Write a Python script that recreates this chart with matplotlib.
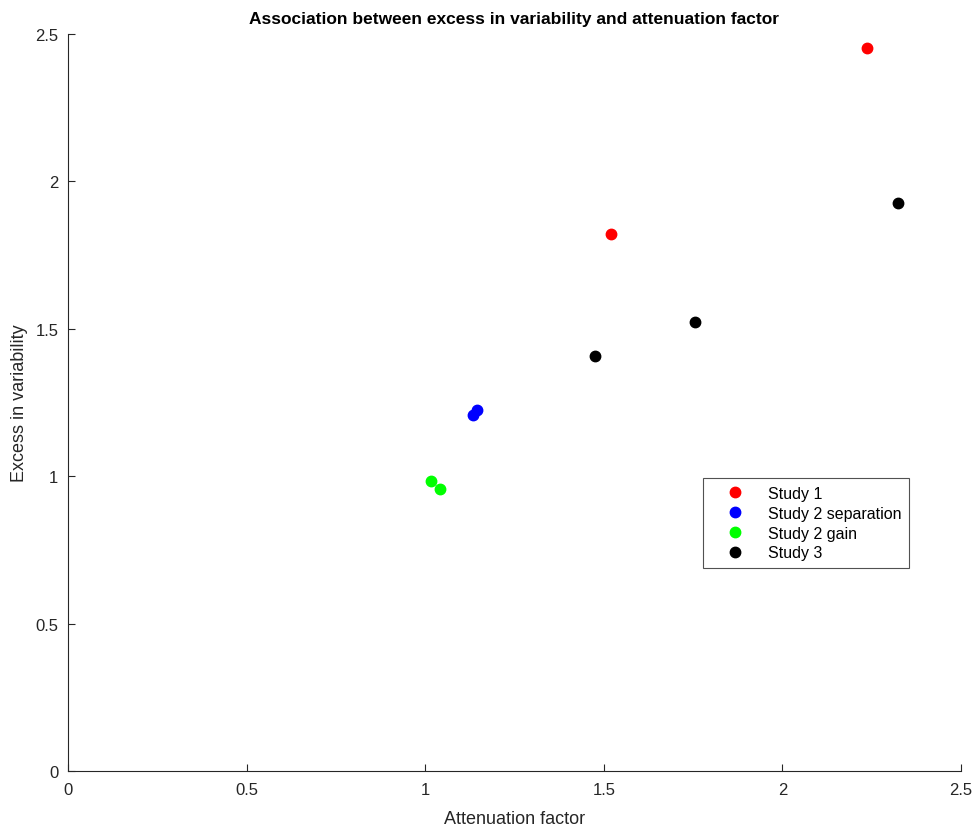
import matplotlib
matplotlib.use("Agg")
import matplotlib.pyplot as plt

plt.rcParams["font.family"] = ["Liberation Sans", "DejaVu Sans"]

# 数据
study1_x = [2.237, 1.520]
study1_y = [2.453, 1.822]
study2_sep_x = [1.134, 1.145]
study2_sep_y = [1.207, 1.224]
study2_gain_x = [1.016, 1.041]
study2_gain_y = [0.984, 0.957]
study3_x = [1.475, 1.755, 2.324]
study3_y = [1.407, 1.522, 1.928]

ticks = [0, 0.5, 1, 1.5, 2, 2.5]
tick_labels = ["0", "0.5", "1", "1.5", "2", "2.5"]

fig = plt.figure(figsize=(9.77, 8.29), dpi=100)
ax = fig.add_axes([0.0696, 0.0688, 0.9140, 0.8890])

ms = 7.5
ax.plot(study1_x, study1_y, "o", color="#ff0000", markersize=ms, label="Study 1")
ax.plot(study2_sep_x, study2_sep_y, "o", color="#0000ff", markersize=ms, label="Study 2 separation")
ax.plot(study2_gain_x, study2_gain_y, "o", color="#00ff00", markersize=ms, label="Study 2 gain")
ax.plot(study3_x, study3_y, "o", color="#000000", markersize=ms, label="Study 3")

ax.set_xlim(0, 2.5)
ax.set_ylim(0, 2.5)
ax.set_xticks(ticks)
ax.set_xticklabels(tick_labels)
ax.set_yticks(ticks)
ax.set_yticklabels(tick_labels)

for side in ["top", "right"]:
    ax.spines[side].set_visible(False)
for side in ["left", "bottom"]:
    ax.spines[side].set_color("#262626")
    ax.spines[side].set_linewidth(0.8)
ax.tick_params(direction="in", length=5, width=0.8, colors="#262626",
               labelsize=12, pad=8)
ax.tick_params(axis="y", pad=7)

ax.set_xlabel("Attenuation factor", fontsize=13, color="#262626", labelpad=9)
ax.set_ylabel("Excess in variability", fontsize=13, color="#262626", labelpad=5)
ax.set_title("Association between excess in variability and attenuation factor",
             fontsize=12.5, fontweight="bold", pad=8)

leg = ax.legend(loc="upper left", bbox_to_anchor=(0.711, 0.3976),
                fontsize=11.5, frameon=True, fancybox=False,
                borderpad=0.5, labelspacing=0.3, handletextpad=0.55,
                handlelength=3.0, borderaxespad=0)
leg.get_frame().set_edgecolor("#262626")
leg.get_frame().set_linewidth(0.8)

fig.savefig("out.png", dpi=100)
